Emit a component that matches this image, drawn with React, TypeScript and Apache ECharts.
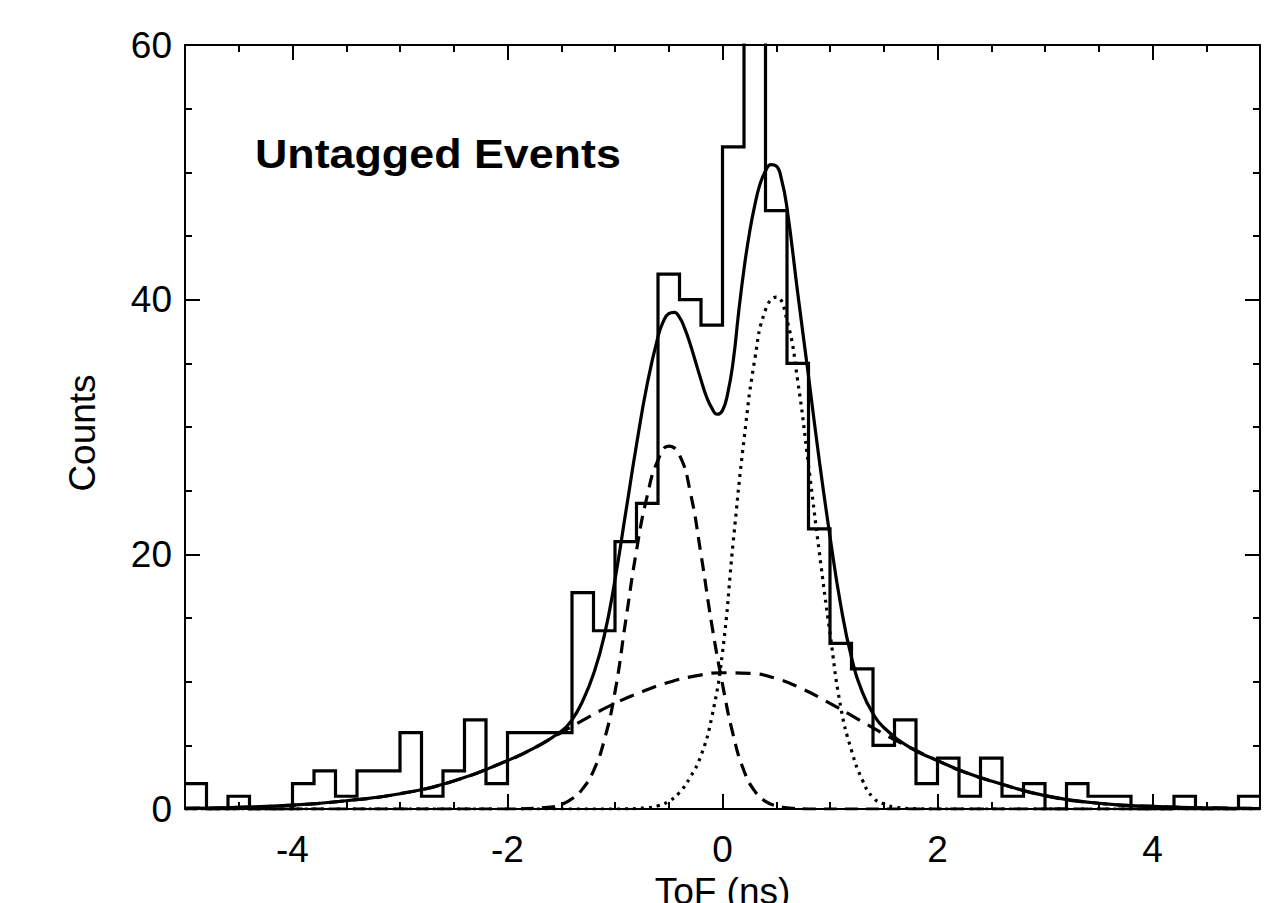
import React, { useEffect, useRef } from "react";
import * as echarts from "echarts";

// ---- Histogram (bins of 0.2 ns from -5 to 5) ----
const binStart = -5;
const binWidth = 0.2;
const counts = [
  2, 0, 1, 0, 0, 2, 3, 1, 3, 3,
  6, 1, 3, 7, 2, 6, 6, 6, 17, 14,
  21, 24, 42, 40, 38, 52, 64, 47, 35, 22,
  13, 11, 5, 7, 2, 4, 1, 4, 1, 2,
  0, 2, 1, 1, 0, 0, 1, 0, 0, 1,
];

// ---- Total fit (solid) ----
const totalX = [-5, -4.5, -4, -3.5, -3, -2.5, -2, -1.75, -1.5, -1.4, -1.3, -1.2, -1.1, -1.0, -0.9, -0.8, -0.7, -0.6, -0.55, -0.5, -0.45, -0.4, -0.35, -0.3, -0.25, -0.2, -0.15, -0.1, -0.05, 0, 0.05, 0.1, 0.15, 0.2, 0.25, 0.3, 0.35, 0.4, 0.45, 0.5, 0.55, 0.6, 0.7, 0.8, 0.9, 1.0, 1.1, 1.2, 1.3, 1.4, 1.5, 1.75, 2, 2.25, 2.5, 3, 3.5, 4, 4.5, 5];
const totalY = [0.05, 0.13, 0.3, 0.65, 1.2, 2.2, 3.8, 4.8, 6.1, 7.0, 8.5, 10.6, 13.6, 18.0, 23.3, 28.6, 33.4, 37.1, 38.3, 38.9, 39.0, 38.6, 37.7, 36.5, 35.1, 33.7, 32.4, 31.5, 31.0, 31.3, 32.7, 35.2, 39.0, 42.4, 45.2, 47.4, 49.1, 50.1, 50.6, 50.5, 49.4, 47.2, 40.5, 34.0, 27.4, 21.4, 16.0, 11.9, 9.2, 7.5, 6.4, 4.8, 3.8, 2.9, 2.2, 1.05, 0.45, 0.2, 0.09, 0.04];

// ---- Broad component (long dashes) ----
const wideX = [-5, -4.5, -4, -3.5, -3, -2.5, -2, -1.75, -1.5, -1.25, -1, -0.75, -0.5, -0.25, 0, 0.25, 0.5, 0.75, 1, 1.25, 1.5, 1.75, 2, 2.25, 2.5, 3, 3.5, 4, 4.5, 5];
const wideY = [0.05, 0.13, 0.3, 0.65, 1.2, 2.2, 3.8, 4.8, 6.0, 7.2, 8.3, 9.2, 9.95, 10.45, 10.7, 10.65, 10.25, 9.4, 8.3, 7.1, 5.9, 4.8, 3.8, 2.9, 2.2, 1.05, 0.45, 0.2, 0.09, 0.04];

// ---- Early peak (dashes) ----
const earlyX = [-5, -2, -1.6, -1.5, -1.4, -1.3, -1.2, -1.1, -1.0, -0.9, -0.8, -0.7, -0.6, -0.5, -0.4, -0.3, -0.2, -0.1, 0.0, 0.1, 0.2, 0.3, 0.4, 0.5, 0.6, 0.8, 5];
const earlyY = [0, 0, 0.15, 0.35, 0.8, 1.6, 3.0, 5.4, 9.2, 14.8, 20.3, 24.6, 27.4, 28.5, 27.8, 24.9, 20.0, 14.5, 9.8, 5.8, 3.0, 1.4, 0.6, 0.25, 0.1, 0, 0];

// ---- Late peak (dots) ----
const lateX = [-5, -1, -0.7, -0.6, -0.5, -0.4, -0.3, -0.2, -0.1, 0, 0.1, 0.2, 0.3, 0.4, 0.5, 0.6, 0.7, 0.8, 0.9, 1.0, 1.1, 1.2, 1.3, 1.4, 1.5, 1.6, 1.8, 2, 5];
const lateY = [0, 0, 0.1, 0.25, 0.6, 1.3, 2.5, 4.2, 7.2, 12.3, 21.0, 29.0, 35.3, 39.2, 40.2, 38.4, 33.6, 27.0, 20.2, 13.8, 8.0, 4.6, 2.3, 0.9, 0.4, 0.15, 0.02, 0, 0];

// ---- Ticks ----
const xMajorTicks = [-4, -2, 0, 2, 4];
const xRange = [-5, 5];
const yRange = [0, 60];

const FONT = '"Liberation Sans", Arial, Helvetica, sans-serif';
const BLACK = "#000";

function pairs(xs: number[], ys: number[]) {
  return xs.map((x, i) => [x, ys[i]]);
}

export default function App() {
  const ref = useRef<HTMLDivElement>(null);

  useEffect(() => {
    if (!ref.current) return;
    const chart = echarts.init(ref.current, null, { renderer: "svg" });

    const histData: number[][] = counts.map((c, i) => [
      +(binStart + i * binWidth).toFixed(2),
      c,
    ]);
    histData.push([+(binStart + counts.length * binWidth).toFixed(2), counts[counts.length - 1]]);

    const lineAx = { show: true, onZero: false, lineStyle: { color: BLACK, width: 2 } };
    const noLine = { show: false, onZero: false };
    const majorTick = { show: true, inside: true, length: 15, lineStyle: { color: BLACK, width: 2 } };
    const minorTick = { show: true, inside: true, length: 7, lineStyle: { color: BLACK, width: 2 } };
    const xBase = { type: "value", min: xRange[0], max: xRange[1], splitLine: { show: false } };
    const yBase = { type: "value", min: yRange[0], max: yRange[1], splitLine: { show: false } };
    const labelStyle = { fontSize: 37, color: BLACK, fontFamily: FONT };

    const curve = (data: number[][], type: any) => ({
      type: "line",
      data,
      xAxisIndex: 0,
      yAxisIndex: 0,
      showSymbol: false,
      symbol: "none",
      smooth: 0.5,
      lineStyle: { color: BLACK, width: 3.2, type, cap: "butt" },
      z: 3,
    });

    chart.setOption({
      animation: false,
      backgroundColor: "#fff",
      grid: { left: 185, right: 27, top: 45, bottom: 94, containLabel: false, outerBoundsMode: "none" },
      graphic: [
        {
          type: "text",
          left: 255,
          top: 134,
          scaleX: 1.12,
          style: {
            text: "Untagged Events",
            font: `bold 40px ${FONT}`,
            fill: BLACK,
          },
        },
      ],
      xAxis: [
        {
          ...xBase,
          position: "bottom",
          axisLine: lineAx,
          axisTick: { ...majorTick, customValues: xMajorTicks },
          axisLabel: { ...labelStyle, show: true, customValues: xMajorTicks, margin: 22 },
          name: "ToF (ns)",
          nameLocation: "middle",
          nameGap: 62,
          nameTextStyle: labelStyle,
        },
        {
          ...xBase,
          position: "bottom",
          interval: 0.5,
          axisLine: noLine,
          axisTick: minorTick,
          axisLabel: { show: false },
        },
        {
          ...xBase,
          position: "top",
          axisLine: lineAx,
          axisTick: { ...majorTick, customValues: xMajorTicks },
          axisLabel: { show: false },
        },
        {
          ...xBase,
          position: "top",
          interval: 0.5,
          axisLine: noLine,
          axisTick: minorTick,
          axisLabel: { show: false },
        },
      ],
      yAxis: [
        {
          ...yBase,
          position: "left",
          interval: 20,
          axisLine: lineAx,
          axisTick: majorTick,
          axisLabel: { ...labelStyle, show: true, margin: 13 },
          name: "Counts",
          nameLocation: "middle",
          nameGap: 84,
          nameRotate: 90,
          nameTextStyle: { ...labelStyle, padding: [0, 12, 0, 0] },
        },
        {
          ...yBase,
          position: "left",
          interval: 5,
          axisLine: noLine,
          axisTick: minorTick,
          axisLabel: { show: false },
        },
        {
          ...yBase,
          position: "right",
          interval: 20,
          axisLine: lineAx,
          axisTick: majorTick,
          axisLabel: { show: false },
        },
        {
          ...yBase,
          position: "right",
          interval: 5,
          axisLine: noLine,
          axisTick: minorTick,
          axisLabel: { show: false },
        },
      ],
      series: [
        {
          type: "line",
          name: "Untagged",
          data: histData,
          xAxisIndex: 0,
          yAxisIndex: 0,
          step: "end",
          showSymbol: false,
          symbol: "none",
          clip: true,
          lineStyle: { color: BLACK, width: 3.2, join: "miter" },
          z: 4,
        },
        curve(pairs(totalX, totalY), "solid"),
        curve(pairs(wideX, wideY), [15, 9]),
        curve(pairs(earlyX, earlyY), [13, 8]),
        curve(pairs(lateX, lateY), [3, 5]),
      ],
    });

    return () => chart.dispose();
  }, []);

  return (
    <div
      ref={ref}
      style={{ position: "fixed", left: 0, top: 0, width: 1287, height: 903, background: "#fff" }}
    />
  );
}
